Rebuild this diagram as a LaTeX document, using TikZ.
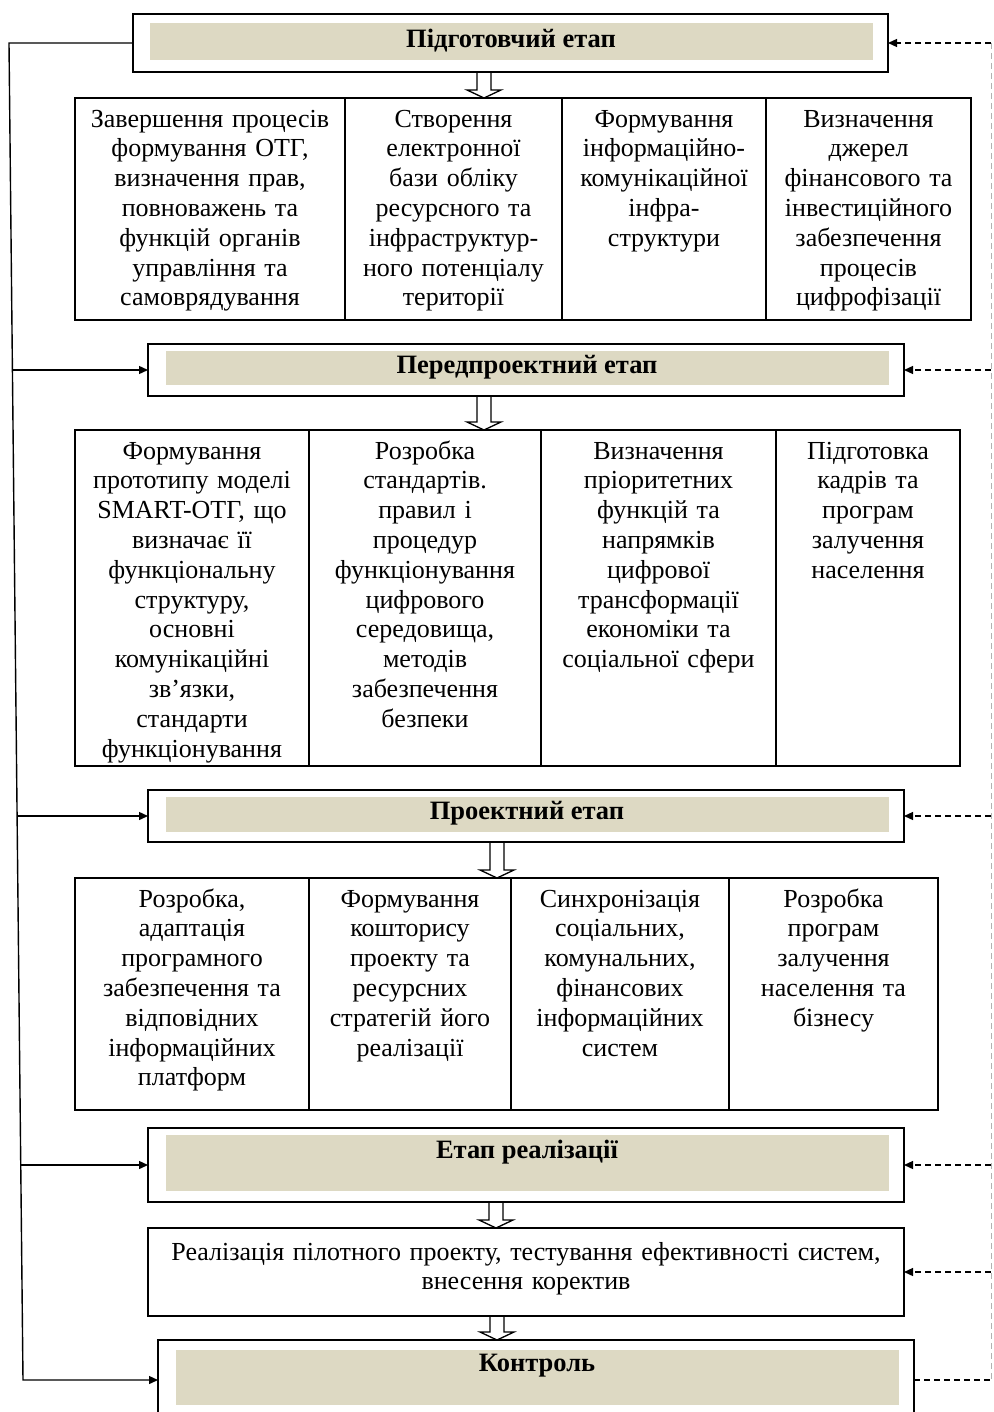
\documentclass[tikz,border=0pt]{standalone}
\usepackage{fontspec}
\setmainfont{Liberation Serif}
\usetikzlibrary{arrows.meta,calc}
\definecolor{beige}{HTML}{DDD9C3}
\tikzset{
  frame/.style={draw, line width=1.8pt, inner sep=0pt, outer sep=0pt},
  band/.style={fill=beige, inner sep=0pt, outer sep=0pt},
  head/.style={font=\fontsize{26.5}{29.8}\selectfont\bfseries, inner sep=0pt},
  cell/.style={draw, line width=1.8pt, inner sep=0pt, outer sep=0pt},
  celltext/.style={font=\fontsize{26}{29.8}\selectfont, align=center, inner sep=0pt, anchor=north, execute at begin node=\strut},
  hollow/.style={draw, line width=1.3pt, line join=miter},
  conn/.style={draw, line width=1.4pt},
  tip/.style={-{Triangle[length=9pt,width=8pt]}},
  fb/.style={draw, line width=1.3pt, dash pattern=on 6pt off 4pt},
}
\begin{document}
\begin{tikzpicture}[x=1pt,y=-1pt]
\useasboundingbox (0,0) rectangle (993,1412);
% ---------- stage 1
\node[frame, minimum width=755, minimum height=58] (s1) at (510.5,43) {};
\node[band, minimum width=723, minimum height=37] (s1b) at (511.5,41.5) {};
\node[head] (s1t) at (511,41) {Підготовчий етап};
% row 1
\node[cell, minimum width=270, minimum height=222] (r11) at (210,209) {};
\node[cell, minimum width=217, minimum height=222] (r12) at (453.5,209) {};
\node[cell, minimum width=204, minimum height=222] (r13) at (664,209) {};
\node[cell, minimum width=205, minimum height=222] (r14) at (868.5,209) {};
\node[celltext, text width=266] (t11) at ($(r11.north)+(0,8)$) {Завершення процесів\\формування ОТГ,\\визначення прав,\\повноважень та\\функцій органів\\управління та\\самоврядування};
\node[celltext, text width=213] (t12) at ($(r12.north)+(0,8)$) {Створення\\електронної\\бази обліку\\ресурсного та\\інфраструктур-\\ного потенціалу\\території};
\node[celltext, text width=200] (t13) at ($(r13.north)+(0,8)$) {Формування\\інформаційно-\\комунікаційної\\інфра-\\структури};
\node[celltext, text width=201] (t14) at ($(r14.north)+(0,8)$) {Визначення\\джерел\\фінансового та\\інвестиційного\\забезпечення\\процесів\\цифрофізації};
% ---------- stage 2
\node[frame, minimum width=756, minimum height=52] (s2) at (526,370) {};
\node[band, minimum width=723, minimum height=34] (s2b) at (527.5,368) {};
\node[head] (s2t) at (527,367) {Передпроектний етап};
% row 2
\node[cell, minimum width=234, minimum height=336] (r21) at (192,598) {};
\node[cell, minimum width=232, minimum height=336] (r22) at (425,598) {};
\node[cell, minimum width=235, minimum height=336] (r23) at (658.5,598) {};
\node[cell, minimum width=184, minimum height=336] (r24) at (868,598) {};
\node[celltext, text width=230] (t21) at ($(r21.north)+(0,8)$) {Формування\\прототипу моделі\\SMART-ОТГ, що\\визначає її\\функціональну\\структуру,\\основні\\комунікаційні\\зв’язки,\\стандарти\\функціонування};
\node[celltext, text width=228] (t22) at ($(r22.north)+(0,8)$) {Розробка\\стандартів.\\правил і\\процедур\\функціонування\\цифрового\\середовища,\\методів\\забезпечення\\безпеки};
\node[celltext, text width=231] (t23) at ($(r23.north)+(0,8)$) {Визначення\\пріоритетних\\функцій та\\напрямків\\цифрової\\трансформації\\економіки та\\соціальної сфери};
\node[celltext, text width=180] (t24) at ($(r24.north)+(0,8)$) {Підготовка\\кадрів та\\програм\\залучення\\населення};
% ---------- stage 3
\node[frame, minimum width=756, minimum height=52] (s3) at (526,816) {};
\node[band, minimum width=723, minimum height=35] (s3b) at (527.5,814.5) {};
\node[head] (s3t) at (527,813) {Проектний етап};
% row 3
\node[cell, minimum width=234, minimum height=232] (r31) at (192,994) {};
\node[cell, minimum width=202, minimum height=232] (r32) at (410,994) {};
\node[cell, minimum width=218, minimum height=232] (r33) at (620,994) {};
\node[cell, minimum width=209, minimum height=232] (r34) at (833.5,994) {};
\node[celltext, text width=230] (t31) at ($(r31.north)+(0,8)$) {Розробка,\\адаптація\\програмного\\забезпечення та\\відповідних\\інформаційних\\платформ};
\node[celltext, text width=198] (t32) at ($(r32.north)+(0,8)$) {Формування\\кошторису\\проекту та\\ресурсних\\стратегій його\\реалізації};
\node[celltext, text width=214] (t33) at ($(r33.north)+(0,8)$) {Синхронізація\\соціальних,\\комунальних,\\фінансових\\інформаційних\\систем};
\node[celltext, text width=205] (t34) at ($(r34.north)+(0,8)$) {Розробка\\програм\\залучення\\населення та\\бізнесу};
% ---------- stage 4
\node[frame, minimum width=756, minimum height=74] (s4) at (526,1165) {};
\node[band, minimum width=723, minimum height=56] (s4b) at (527.5,1163) {};
\node[head] (s4t) at (527,1152) {Етап реалізації};
% box 5
\node[cell, minimum width=756, minimum height=88] (b5) at (526,1272) {};
\node[celltext, text width=750] (t5) at ($(b5.north)+(0,11)$) {Реалізація пілотного проекту, тестування ефективності систем,\\внесення коректив};
% ---------- control
\node[frame, minimum width=756, minimum height=80] (ctrl) at (536,1380) {};
\node[band, minimum width=723, minimum height=55] (ctrlb) at (537.5,1377.5) {};
\node[head] (ctrlt) at (537,1366) {Контроль};
% ---------- hollow arrows
\draw[hollow] (477,0 |- s1.south) -- (477,90) -- (467,90) -- (484,0 |- r12.north) -- (501,90) -- (491,90) -- (491,0 |- s1.south);
\draw[hollow] (477,0 |- s2.south) -- (477,422) -- (467,422) -- (484,0 |- r22.north) -- (501,422) -- (491,422) -- (491,0 |- s2.south);
\draw[hollow] (490,0 |- s3.south) -- (490,870) -- (480,870) -- (497,0 |- r32.north) -- (514,870) -- (504,870) -- (504,0 |- s3.south);
\draw[hollow] (489,0 |- s4.south) -- (489,1220) -- (479,1220) -- (496,0 |- b5.north) -- (513,1220) -- (503,1220) -- (503,0 |- s4.south);
\draw[hollow] (490,0 |- b5.south) -- (490,1332) -- (480,1332) -- (497,0 |- ctrl.north) -- (514,1332) -- (504,1332) -- (504,0 |- b5.south);
% ---------- left feedback line (slightly slanted, as drawn)
\coordinate (lt) at (9,0 |- s1.west);
\coordinate (lb) at (23,0 |- ctrl.west);
\draw[conn, tip] (s1.west) -- (lt) -- (lb) -- (ctrl.west);
\draw[conn, tip] (12.4,0 |- s2.west) -- (s2.west);
\draw[conn, tip] (17.1,0 |- s3.west) -- (s3.west);
\draw[conn, tip] (20.7,0 |- s4.west) -- (s4.west);
% ---------- right dashed line
\coordinate (rt) at (991,0 |- s1.east);
\coordinate (rb) at (991,0 |- ctrl.east);
\draw[fb, draw=gray!60, line width=1pt] (rt) -- (rb);
\draw[fb, tip] (rt) -- (s1.east);
\draw[fb, tip] (991,0 |- s2.east) -- (s2.east);
\draw[fb, tip] (991,0 |- s3.east) -- (s3.east);
\draw[fb, tip] (991,0 |- s4.east) -- (s4.east);
\draw[fb, tip] (991,0 |- b5.east) -- (b5.east);
\draw[fb] (ctrl.east) -- (rb);
\end{tikzpicture}
\end{document}
